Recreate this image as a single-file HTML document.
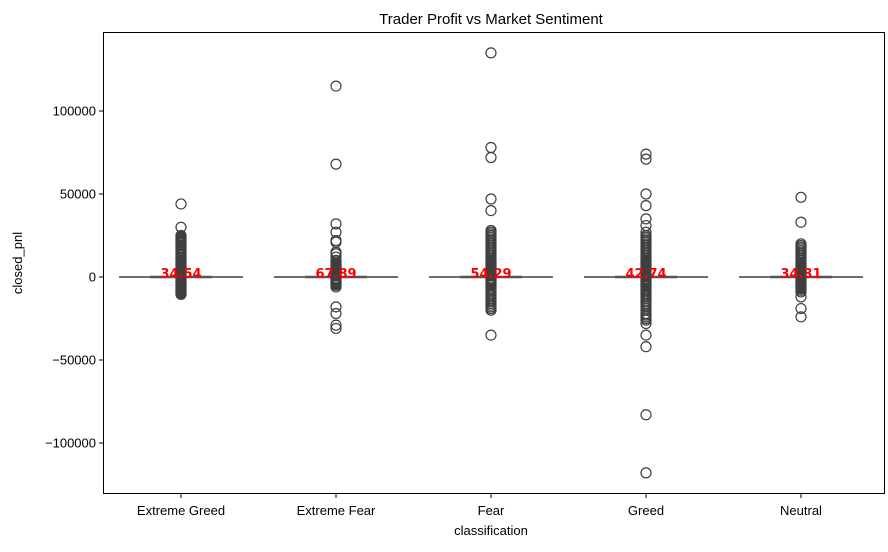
<!DOCTYPE html>
<html><head><meta charset="utf-8"><style>
body{margin:0;background:#fff;font-family:"Liberation Sans","DejaVu Sans",sans-serif}
</style></head><body>
<svg id="chart" width="888" height="547" xmlns="http://www.w3.org/2000/svg">
<text x="491" y="24" text-anchor="middle" font-size="15">Trader Profit vs Market Sentiment</text>
<g id="plot"></g>
<rect x="103.5" y="32.5" width="781" height="461" fill="none" stroke="#000" stroke-width="1"/>
<text x="491" y="535" text-anchor="middle" font-size="13">classification</text>
<text transform="translate(22,263) rotate(-90)" text-anchor="middle" font-size="13">closed_pnl</text>
</svg>
<script>
const categories=["Extreme Greed","Extreme Fear","Fear","Greed","Neutral"];
const meanLabels=["34.54","67.89","54.29","42.74","34.31"];
const outliers=[
[44000,30000,25000,24500,24000,23500,23000,22500,22000,21500,21000,20500,20000,19000,18000,17500,17000,16000,15500,15000,14000,13500,13000,12000,11500,11000,10000,9500,9000,8500,8000,7500,7000,6500,6000,5500,5000,4500,4000,3500,3000,2500,2000,1500,1000,-1000,-1500,-2000,-2500,-3000,-3500,-4000,-4500,-5000,-5500,-6000,-6500,-7000,-7500,-8000,-8500,-9000,-9500,-10000,-10500],
[115000,68000,32000,27000,22000,21000,15000,14000,12000,10000,9000,8000,7500,7000,6500,6000,5500,5000,4500,4000,3500,3000,2500,2000,1500,1000,-1000,-1500,-2000,-2500,-3000,-3500,-4000,-4500,-5000,-6000,-18000,-22000,-29000,-31000],
[135000,78000,72000,47000,40000,28000,27000,26000,25000,24000,23000,22000,21000,20000,19000,18000,17000,16000,15000,14000,13000,12000,11000,10000,9500,9000,8500,8000,7500,7000,6500,6000,5500,5000,4500,4000,3500,3000,2500,2000,1500,1000,-1000,-1500,-2000,-2500,-3000,-3500,-4000,-4500,-5000,-6000,-7000,-8000,-9000,-10000,-11000,-12000,-13000,-14000,-15000,-16000,-17000,-18000,-19000,-20000,-35000],
[74000,71000,50000,43000,35000,31000,27000,25000,24000,23000,22000,21000,20000,19000,18000,17000,16000,15000,14000,13000,12000,11000,10000,9500,9000,8500,8000,7500,7000,6500,6000,5500,5000,4500,4000,3500,3000,2500,2000,1500,1000,-1000,-1500,-2000,-2500,-3000,-3500,-4000,-4500,-5000,-5500,-6000,-7000,-8000,-9000,-10000,-11000,-12000,-13000,-14000,-15000,-16000,-17000,-18000,-20000,-22000,-23000,-24000,-25000,-26000,-28000,-35000,-42000,-83000,-118000],
[48000,33000,20000,19000,18000,17000,16000,15000,14000,13000,12000,11000,10000,9000,8500,8000,7500,7000,6500,6000,5500,5000,4500,4000,3500,3000,2500,2000,1500,1000,-1000,-1500,-2000,-2500,-3000,-3500,-4000,-4500,-5000,-5500,-6000,-6500,-7000,-8000,-9000,-12000,-19000,-24000]
];
const yTicks=[-100000,-50000,0,50000,100000];
const NS="http://www.w3.org/2000/svg";
const g=document.getElementById('plot');
const yScale=v=>277-v/50000*83;
const xScale=i=>181+i*155;
function mk(tag,attrs){const e=document.createElementNS(NS,tag);for(const k in attrs)e.setAttribute(k,attrs[k]);g.appendChild(e);return e;}
yTicks.forEach(t=>{
 const y=yScale(t);
 const l=mk('line',{x1:99,x2:103.5,y1:y,y2:y,stroke:'#000'});
 
 
 const tx=mk('text',{x:96,y:y+4.5,'text-anchor':'end','font-size':13});
 tx.textContent=(t<0?'\u2212'+(-t):t);
 
 
});
categories.forEach((c,i)=>{
 const x=xScale(i);
 const l=mk('line',{x1:x,x2:x,y1:493.5,y2:498,stroke:'#000'});
 
 
 const tx=mk('text',{x:x,y:515,'text-anchor':'middle','font-size':13});
 tx.textContent=c;
 
 
 const y0=yScale(0);
 const w=mk('line',{x1:x-62,x2:x+62,y1:y0,y2:y0,stroke:'#3f3f3f','stroke-width':1.5});
 
 
 const b=mk('line',{x1:x-31,x2:x+31,y1:y0,y2:y0,stroke:'#555','stroke-width':2.5});
 
 
 outliers[i].forEach(v=>{
  const p=mk('circle',{cx:x,cy:yScale(v),r:5,fill:'none',stroke:'#3f3f3f','stroke-width':1.2});
  
  
 });
 const m=mk('text',{x:x,y:278,'text-anchor':'middle','font-size':13,'font-weight':'bold',fill:'#ff0000','font-family':'"DejaVu Sans",sans-serif'});
 m.textContent=meanLabels[i];
 
 
});
</script>
</body></html>
